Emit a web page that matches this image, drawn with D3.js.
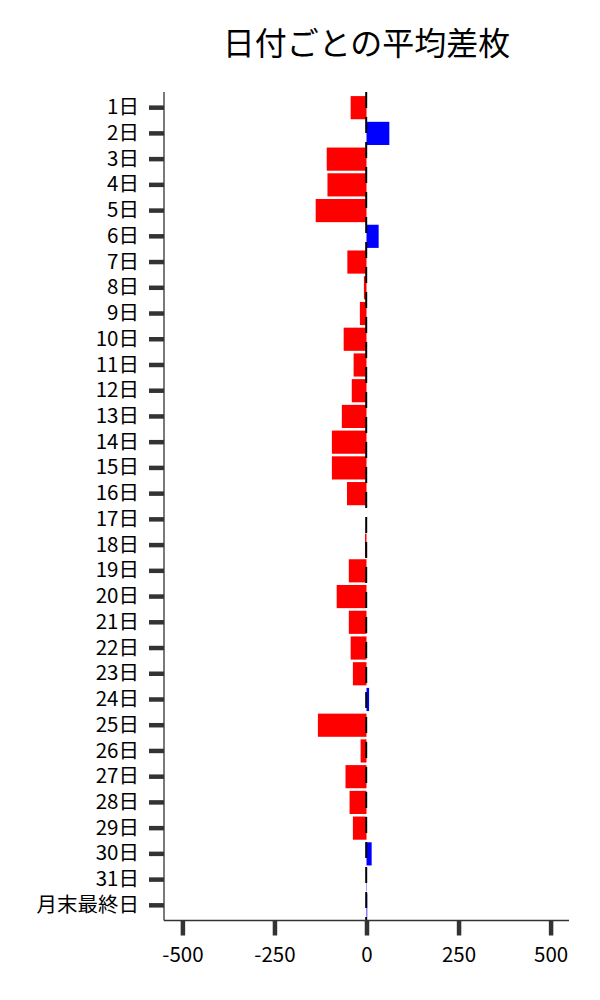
<!DOCTYPE html>
<html>
<head>
<meta charset="utf-8">
<script src="https://cdn.jsdelivr.net/npm/d3@7"></script>
<style>
  body { margin: 0; background: #fff; }
  text { font-family: "Noto Sans CJK JP", "Noto Sans", sans-serif; }
</style>
</head>
<body>
<div id="chart"></div>
<script>
// 日付ごとの平均差枚
var days = ['1日','2日','3日','4日','5日','6日','7日','8日','9日','10日',
    '11日','12日','13日','14日','15日','16日','17日','18日','19日','20日',
    '21日','22日','23日','24日','25日','26日','27日','28日','29日','30日',
    '31日','月末最終日'];
var avgDiff = [-43, 62, -108, -106, -138, 33, -52, -7, -18, -62,
    -35, -40, -67, -94, -94, -53, 0, -4, -48, -81,
    -48, -43, -37, 7, -132, -16, -57, -46, -37, 14,
    1, 2];
var xTicks = [-500, -250, 0, 250, 500];

var svgWidth = 600;
var svgHeight = 1000;

var plot = {left: 164, right: 569, top: 92, bottom: 920.5};

var svg = d3.select('#chart')
    .append('svg')
    .attr('width', svgWidth)
    .attr('height', svgHeight);

var x = d3.scaleLinear()
    .domain([-550, 550])
    .range([plot.left, plot.right]);

var y = d3.scaleBand()
    .domain(days)
    .range([94.8, 918.2])
    .paddingInner(0.1)
    .paddingOuter(0.05);

// bars
svg.append('g')
    .selectAll('rect')
    .data(days)
    .enter()
    .append('rect')
    .attr('x', (d, i) => x(Math.min(0, avgDiff[i])))
    .attr('y', d => y(d))
    .attr('width', (d, i) => Math.abs(x(avgDiff[i]) - x(0)))
    .attr('height', y.bandwidth())
    .attr('fill', (d, i) => avgDiff[i] >= 0 ? '#0000ff' : '#ff0000');

// zero line
svg.append('line')
    .attr('x1', x(0) - 0.3)
    .attr('x2', x(0) - 0.3)
    .attr('y1', plot.top)
    .attr('y2', plot.bottom)
    .attr('stroke', '#000')
    .attr('stroke-width', 2)
    .attr('stroke-dasharray', '16,9');

// axes
var xAxis = svg.append('g')
    .attr('transform', `translate(0, ${plot.bottom})`)
    .call(d3.axisBottom(x).tickValues(xTicks).tickFormat(d => String(d))
        .tickSize(15).tickPadding(12));

var yAxis = svg.append('g')
    .attr('transform', `translate(${plot.left}, 0)`)
    .call(d3.axisLeft(y).tickSize(15).tickPadding(10));

[xAxis, yAxis].forEach(function(ax){
    ax.select('.domain').remove();
    ax.selectAll('.tick line')
        .attr('stroke', '#333')
        .attr('stroke-width', 4.5);
    ax.selectAll('.tick text')
        .attr('fill', '#000')
        .style('font-size', '20.5px');
});

// spines
svg.append('line')
    .attr('x1', plot.left).attr('x2', plot.left)
    .attr('y1', plot.top).attr('y2', plot.bottom)
    .attr('stroke', '#333').attr('stroke-width', 1.3);
svg.append('line')
    .attr('x1', plot.left).attr('x2', plot.right)
    .attr('y1', plot.bottom).attr('y2', plot.bottom)
    .attr('stroke', '#333').attr('stroke-width', 1.3);

// title
svg.append('text')
    .attr('x', (plot.left + plot.right) / 2)
    .attr('y', 55)
    .attr('text-anchor', 'middle')
    .style('font-size', '32px')
    .attr('fill', '#000')
    .text('日付ごとの平均差枚');
</script>
</body>
</html>
